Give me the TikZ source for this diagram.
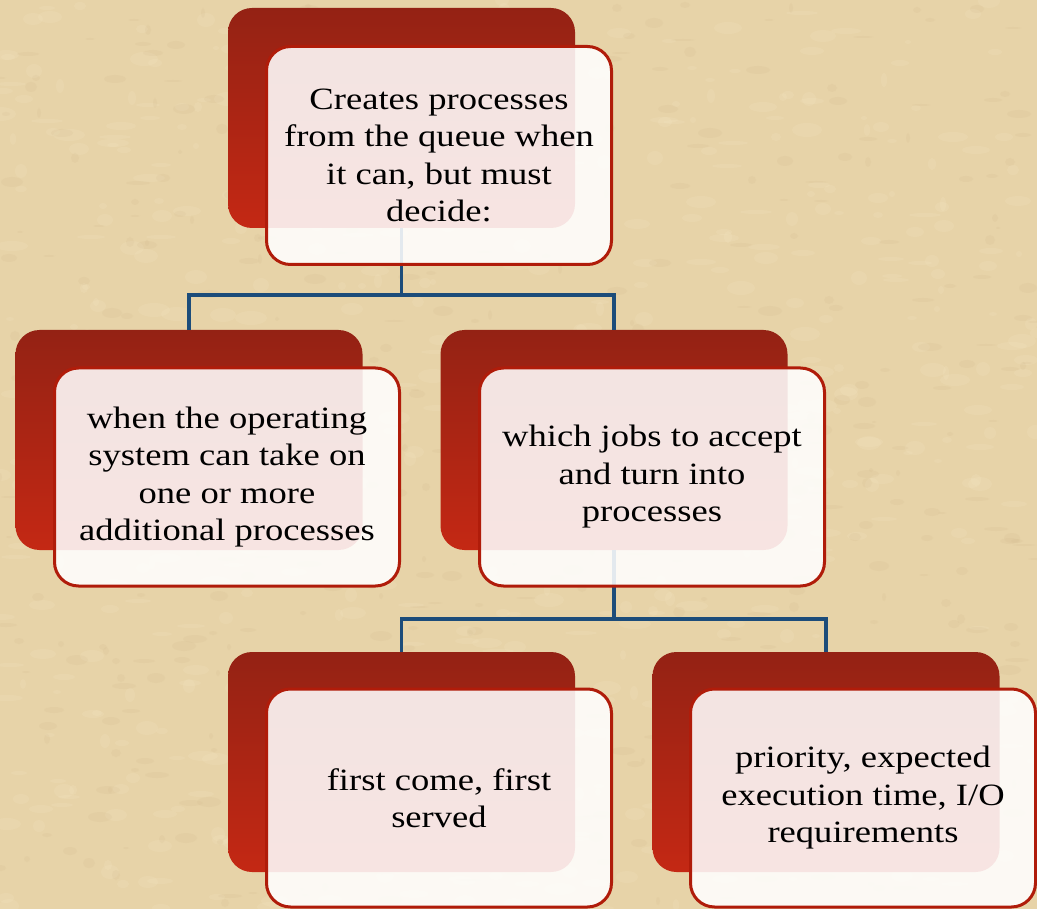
\documentclass[tikz,border=0pt]{standalone}
\usepackage{fontspec}
\setmainfont[FakeStretch=1.18]{Liberation Serif}
\definecolor{bg}{RGB}{231,211,168}
\definecolor{bglight}{RGB}{243,228,192}
\definecolor{bgdark}{RGB}{208,184,140}
\definecolor{redtop}{RGB}{148,34,20}
\definecolor{redbot}{RGB}{196,40,20}
\definecolor{boxred}{RGB}{176,28,10}
\definecolor{linkblue}{RGB}{28,76,122}
\begin{document}
\begin{tikzpicture}[x=1pt,y=-1pt,
  backbox/.style={rectangle, rounded corners=24pt, minimum width=347pt, minimum height=220pt,
    inner sep=0pt, outer sep=0pt, top color=redtop, bottom color=redbot, draw=none},
  frontbox/.style={rectangle, rounded corners=24pt, minimum width=345pt, minimum height=218pt,
    inner sep=0pt, draw=boxred, line width=3pt, fill=white, fill opacity=0.88, text opacity=1,
    align=center, font=\fontsize{31}{37.5}\selectfont, text=black},
  link/.style={draw=linkblue, line width=3.2pt}]
\fill[bg] (0,0) rectangle (1037,909);
\useasboundingbox (0,0) rectangle (1037,909);
% fine parchment grain
\pgfmathsetseed{11}
\foreach \i in {1,...,700}{
  \pgfmathsetmacro{\px}{random(0,1037)}
  \pgfmathsetmacro{\py}{random(0,909)}
  \pgfmathsetmacro{\rx}{random(3,16)}
  \pgfmathsetmacro{\ry}{random(2,7)}
  \fill[bglight, opacity=0.22] (\px,\py) ellipse [x radius=\rx, y radius=\ry];
}
\foreach \i in {1,...,500}{
  \pgfmathsetmacro{\px}{random(0,1037)}
  \pgfmathsetmacro{\py}{random(0,909)}
  \pgfmathsetmacro{\rx}{random(2,12)}
  \pgfmathsetmacro{\ry}{random(1,5)}
  \fill[bgdark, opacity=0.15] (\px,\py) ellipse [x radius=\rx, y radius=\ry];
}
% back boxes
\node[backbox] (t0) at (401.5,118) {};
\node[backbox] (a0) at (189,440) {};
\node[backbox] (b0) at (614,440) {};
\node[backbox] (c0) at (401.5,762) {};
\node[backbox] (d0) at (826,762) {};
% connectors
\coordinate (j1) at (401.5,295);
\coordinate (j2) at (614,619);
\draw[link] (t0.south) -- (j1) -| (a0.north);
\draw[link] (j1) -| (b0.north);
\draw[link] (b0.south) -- (j2) -| (c0.north);
\draw[link] (j2) -| (d0.north);
% front boxes
\node[frontbox] (t1) at (439,155.5) {Creates processes\\from the queue when\\it can, but must\\decide:};
\node[frontbox] (a1) at (227,477) {when the operating\\system can take on\\one or more\\additional processes};
\node[frontbox] (b1) at (652,477) {which jobs to accept\\and turn into\\processes};
\node[frontbox] (c1) at (439,798) {first come, first\\served};
\node[frontbox] (d1) at (863,798) {priority, expected\\execution time, I/O\\requirements};
\end{tikzpicture}
\end{document}
